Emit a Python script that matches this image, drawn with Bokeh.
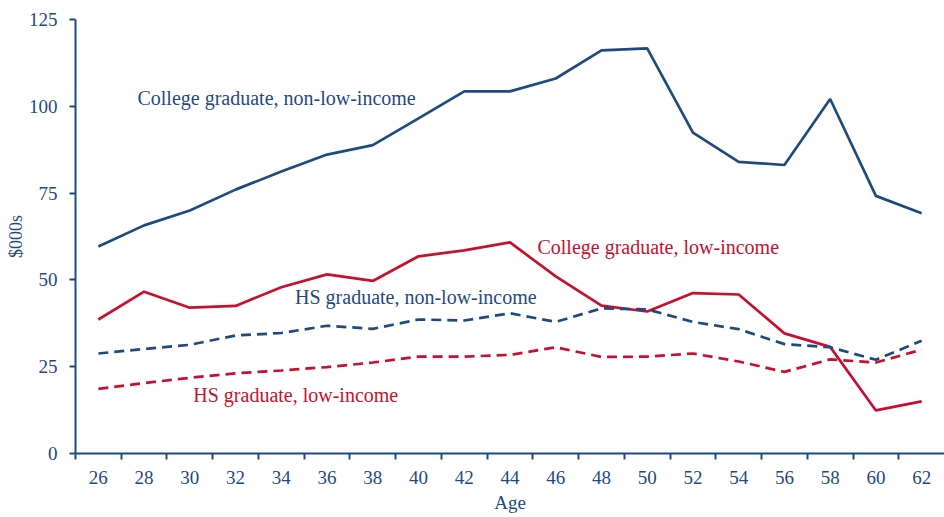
from bokeh.plotting import figure
from bokeh.models import FixedTicker, ColumnDataSource
from bokeh.core.properties import value
from bokeh.embed import file_html
from bokeh.resources import INLINE

ages = [26, 28, 30, 32, 34, 36, 38, 40, 42, 44, 46, 48, 50, 52, 54, 56, 58, 60, 62]
college_non_low = [59.6, 65.7, 70.0, 76.0, 81.2, 86.1, 88.8, 96.5, 104.3, 104.3, 108.0, 116.1, 116.7, 92.4, 84.0, 83.1, 102.1, 74.2, 69.2]
college_low = [38.6, 46.6, 42.0, 42.5, 47.9, 51.6, 49.7, 56.8, 58.5, 60.8, 51.0, 42.6, 40.9, 46.2, 45.8, 34.6, 30.7, 12.4, 15.0]
hs_non_low = [28.8, 30.1, 31.3, 34.0, 34.7, 36.8, 35.9, 38.6, 38.3, 40.4, 37.9, 41.8, 41.5, 37.9, 35.8, 31.5, 30.6, 27.0, 32.5]
hs_low = [18.6, 20.3, 21.8, 23.1, 23.9, 24.9, 26.2, 27.9, 27.9, 28.4, 30.6, 27.8, 27.9, 28.8, 26.5, 23.5, 27.1, 26.2, 29.9]
y_ticks = [0, 25, 50, 75, 100, 125]

label_text = ["College graduate, non-low-income", "College graduate, low-income",
              "HS graduate, non-low-income", "HS graduate, low-income"]

BLUE = "#1f4a80"
RED = "#c8102e"
FONT = "Liberation Serif"

p = figure(width=944, height=517, output_backend="svg", toolbar_location=None,
           x_range=(25, 63), y_range=(0, 125),
           min_border_left=75, min_border_top=19, min_border_right=0, min_border_bottom=64)
p.outline_line_color = None
p.xgrid.visible = False
p.ygrid.visible = False

src = ColumnDataSource(dict(age=ages, cnl=college_non_low, cl=college_low, hnl=hs_non_low, hl=hs_low))
p.line("age", "cnl", source=src, line_color=BLUE, line_width=2.7)
p.line("age", "cl", source=src, line_color=RED, line_width=2.7)
p.line("age", "hnl", source=src, line_color=BLUE, line_width=2.7, line_dash="10 6")
p.line("age", "hl", source=src, line_color=RED, line_width=2.7, line_dash="10 6")

lab = ColumnDataSource(dict(x=[27.71, 45.2, 34.6, 30.15], y=[102.5, 59.6, 45.0, 16.8],
                            t=label_text, c=[BLUE, RED, BLUE, RED]))
p.text("x", "y", text="t", source=lab, text_color="c", text_font=value(FONT),
       text_font_size="20px", text_baseline="middle", text_align="left")

xa = p.xaxis[0]
xa.ticker = FixedTicker(ticks=ages, minor_ticks=[a - 1 for a in ages])
xa.major_tick_line_color = None
xa.major_tick_out = 6
xa.minor_tick_line_color = BLUE
xa.minor_tick_line_width = 2
xa.minor_tick_out = 6
xa.minor_tick_in = 0
xa.axis_line_color = BLUE
xa.axis_line_width = 2
xa.major_label_text_font = FONT
xa.major_label_text_font_size = "19px"
xa.major_label_text_color = BLUE
xa.major_label_standoff = 11
xa.axis_label = "Age"
xa.axis_label_text_font = FONT
xa.axis_label_text_font_size = "19px"
xa.axis_label_text_font_style = "normal"
xa.axis_label_text_color = BLUE
xa.axis_label_standoff = 5

ya = p.yaxis[0]
ya.ticker = FixedTicker(ticks=y_ticks)
ya.minor_tick_line_color = None
ya.major_tick_line_color = BLUE
ya.major_tick_line_width = 2
ya.major_tick_out = 6
ya.major_tick_in = 0
ya.axis_line_color = BLUE
ya.axis_line_width = 2
ya.major_label_text_font = FONT
ya.major_label_text_font_size = "19px"
ya.major_label_text_color = BLUE
ya.major_label_standoff = 12
ya.axis_label = "$000s"
ya.axis_label_text_font = FONT
ya.axis_label_text_font_size = "18px"
ya.axis_label_text_font_style = "normal"
ya.axis_label_text_color = BLUE
ya.axis_label_standoff = 0

open("out.html", "w").write(file_html(p, INLINE))
